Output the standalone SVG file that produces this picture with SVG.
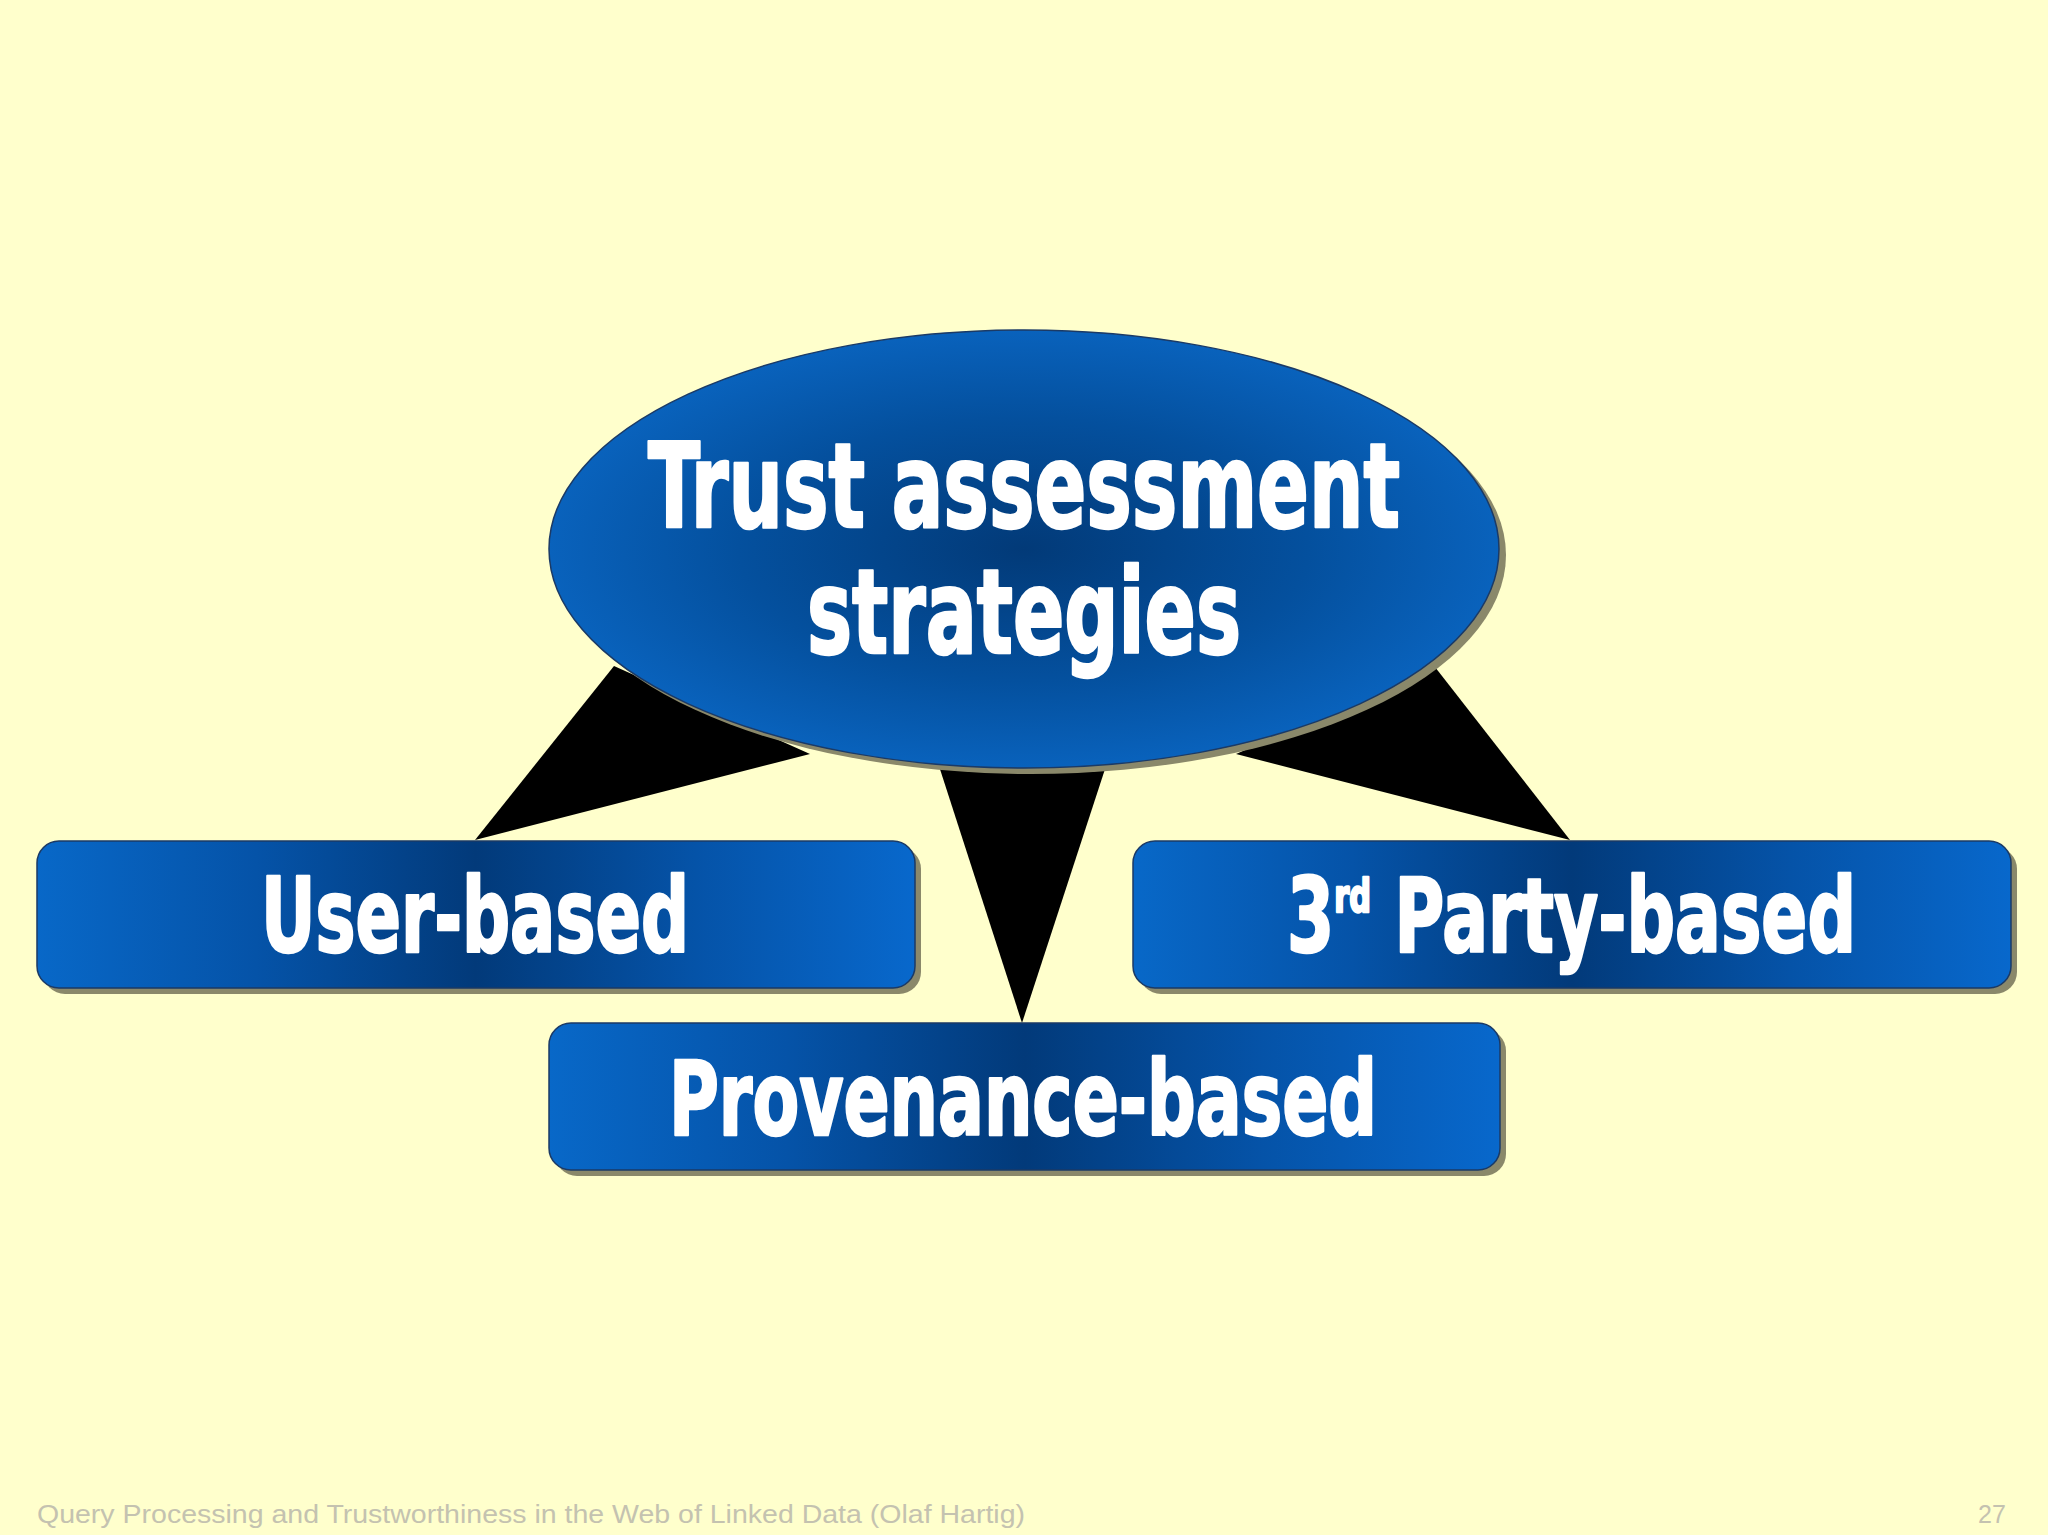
<svg xmlns="http://www.w3.org/2000/svg" width="2048" height="1535" viewBox="0 0 2048 1535">
<defs>
<radialGradient id="gEll" cx="0.5" cy="0.5" r="0.5">
<stop offset="0" stop-color="#023a78"/>
<stop offset="0.6" stop-color="#04509e"/>
<stop offset="1" stop-color="#0962bc"/>
</radialGradient>
<linearGradient id="gBox" x1="0" y1="0" x2="1" y2="0">
<stop offset="0" stop-color="#0868c8"/>
<stop offset="0.25" stop-color="#0553a8"/>
<stop offset="0.5" stop-color="#023a7a"/>
<stop offset="0.75" stop-color="#0553a8"/>
<stop offset="1" stop-color="#0868cc"/>
</linearGradient>
<style>
.shadow{fill:#8a886a}
.box{fill:url(#gBox);stroke:#1b3a66;stroke-width:1.5}
.lbl{font-family:"Liberation Sans Narrow","DejaVu Sans Condensed","Liberation Sans",sans-serif;font-weight:bold;fill:#ffffff;stroke:#ffffff;stroke-width:2.5;stroke-linejoin:round}
.foot{font-family:"Liberation Sans",Arial,sans-serif;font-size:25px;fill:#c4c2b0}
.conn{fill:#000000}
</style>
</defs>
<rect width="2048" height="1535" fill="#ffffcc"/>
<g id="connectors">
<polygon class="conn" points="614,666 810,754 475,840"/>
<polygon class="conn" points="938,763 1107,763 1022,1023"/>
<polygon class="conn" points="1435,667 1236,754 1570,840"/>
</g>
<g id="node-root">
<ellipse class="shadow" cx="1031" cy="555" rx="475" ry="219"/>
<ellipse cx="1024" cy="549" rx="475" ry="219" fill="url(#gEll)" stroke="#1b3a66" stroke-width="1.5"/>
<text class="lbl" x="648" y="527" font-size="117" textLength="752" lengthAdjust="spacingAndGlyphs">Trust assessment</text>
<text class="lbl" x="807" y="653" font-size="117" textLength="434" lengthAdjust="spacingAndGlyphs">strategies</text>
</g>
<g id="node-user">
<rect class="shadow" x="43" y="847" width="878" height="147" rx="22"/>
<rect class="box" x="37" y="841" width="878" height="147" rx="22"/>
<text class="lbl" x="261" y="952" font-size="103" textLength="428" lengthAdjust="spacingAndGlyphs">User-based</text>
</g>
<g id="node-third">
<rect class="shadow" x="1139" y="847" width="878" height="147" rx="22"/>
<rect class="box" x="1133" y="841" width="878" height="147" rx="22"/>
<text class="lbl" x="1287" y="952" font-size="103" textLength="569" lengthAdjust="spacingAndGlyphs">3<tspan font-size="46" dy="-40">rd</tspan><tspan dy="40"> Party-based</tspan></text>
</g>
<g id="node-provenance">
<rect class="shadow" x="555" y="1029" width="951" height="147" rx="22"/>
<rect class="box" x="549" y="1023" width="951" height="147" rx="22"/>
<text class="lbl" x="669" y="1135" font-size="103" textLength="708" lengthAdjust="spacingAndGlyphs">Provenance-based</text>
</g>
<text class="foot" x="37" y="1523" textLength="988" lengthAdjust="spacingAndGlyphs">Query Processing and Trustworthiness in the Web of Linked Data (Olaf Hartig)</text>
<text class="foot" x="1978" y="1523">27</text>
</svg>
